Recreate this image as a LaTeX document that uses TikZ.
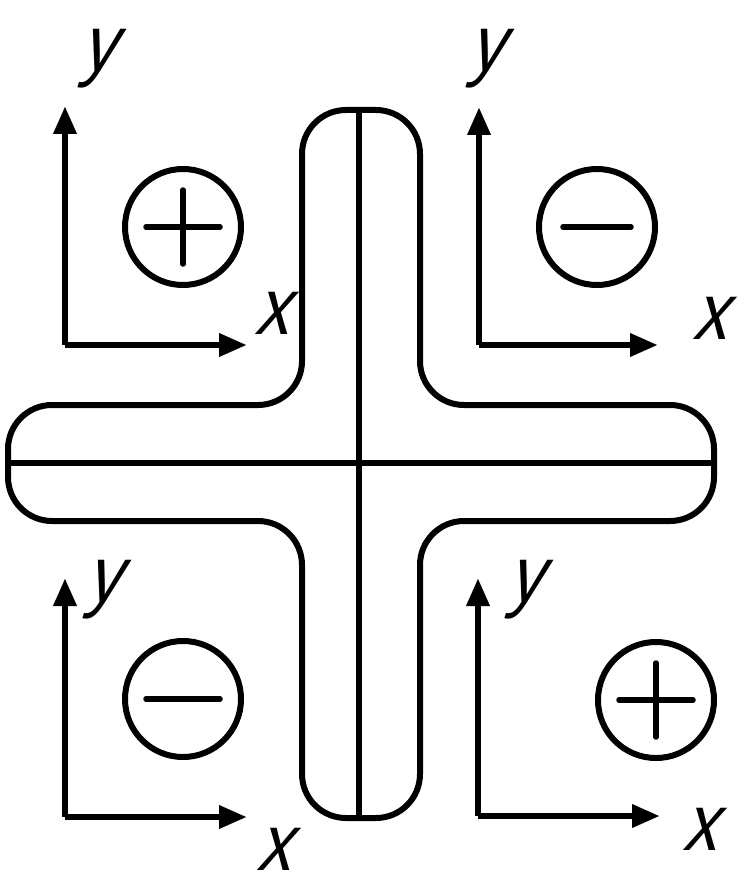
\documentclass[tikz,border=0pt]{standalone}
\usepackage{fontspec}
\setmainfont{Liberation Sans}
\newfontfamily\labfont[FakeSlant=0.3,FakeStretch=0.85]{Liberation Sans}
\usetikzlibrary{arrows.meta}
\begin{document}
\begin{tikzpicture}[x=1pt,y=-1pt,
  outline/.style={line width=6pt,rounded corners=44pt},
  midline/.style={line width=5.5pt},
  axis/.style={line width=6.5pt,-{Triangle[length=28pt,width=22pt]}},
  sign/.style={circle,draw,line width=6pt,minimum size=116pt,inner sep=0pt},
  bar/.style={line width=5.5pt,line cap=round},
  lab/.style={font=\fontsize{80}{80}\selectfont\labfont,inner sep=0pt}]
\useasboundingbox (0,0) rectangle (745,896);
% cross outline
\draw[outline] (420,250) -- (420,405) -- (714,405) -- (714,521)
  -- (420,521) -- (420,818) -- (302,818) -- (302,521) -- (8,521) -- (8,405)
  -- (302,405) -- (302,110) -- (420,110) -- cycle;
\coordinate (vt) at (359,110);
\coordinate (vb) at (359,818);
\coordinate (hl) at (8,463);
\coordinate (hr) at (714,463);
\draw[midline] (vt) -- (vb);
\draw[midline] (hl) -- (hr);
% axes
\coordinate (o1) at (65,345);  \coordinate (y1) at (65,106);  \coordinate (x1) at (247,345);
\coordinate (o2) at (479,345); \coordinate (y2) at (479,107); \coordinate (x2) at (658,345);
\coordinate (o3) at (65,817);  \coordinate (y3) at (65,578);  \coordinate (x3) at (247,817);
\coordinate (o4) at (478,816); \coordinate (y4) at (478,578); \coordinate (x4) at (660,816);
\foreach \i in {1,2,3,4}{
  \draw[axis] (o\i) -- (y\i);
  \draw[axis] (o\i) -- (x\i);
}
% labels
\node[lab] (ly1) at (97,59) {y};
\node[lab] (lx1) at (271,313) {x};
\node[lab] (ly2) at (485,59) {y};
\node[lab] (lx2) at (709,318) {x};
\node[lab] (ly3) at (102,590) {y};
\node[lab] (lx3) at (273,849) {x};
\node[lab] (ly4) at (524,590) {y};
\node[lab] (lx4) at (699,829) {x};
% signs
\node[sign] (s1) at (183,227) {};
\node[sign] (s2) at (597,227) {};
\node[sign] (s3) at (183,699) {};
\node[sign] (s4) at (656,700) {};
\draw[bar] ([xshift=-37pt]s1.center) -- ([xshift=37pt]s1.center);
\draw[bar] ([yshift=-37pt]s1.center) -- ([yshift=37pt]s1.center);
\draw[bar] ([xshift=-34pt]s2.center) -- ([xshift=34pt]s2.center);
\draw[bar] ([xshift=-37pt]s3.center) -- ([xshift=37pt]s3.center);
\draw[bar] ([xshift=-37pt]s4.center) -- ([xshift=37pt]s4.center);
\draw[bar] ([yshift=-37pt]s4.center) -- ([yshift=37pt]s4.center);
\end{tikzpicture}
\end{document}
